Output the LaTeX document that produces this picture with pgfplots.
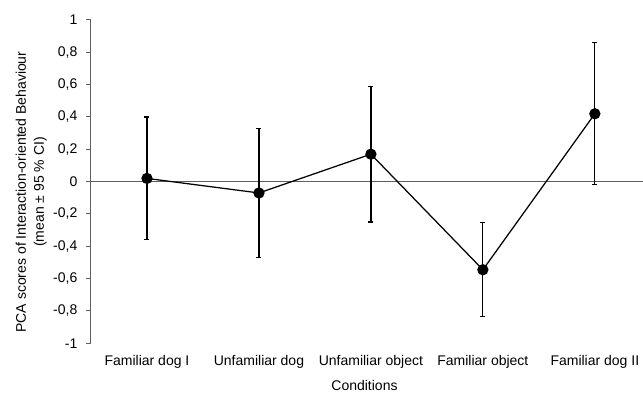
\documentclass[border=0pt]{standalone}
\usepackage{pgfplots}
\pgfplotsset{compat=1.18}
\usepackage{fontspec}
\setmainfont{Liberation Sans}
\definecolor{axisgray}{RGB}{95,95,95}

% Interaction-oriented behaviour: mean PCA score and 95 % CI half-width per condition
\pgfplotstableread{
x   y      e
0   0.02   0.38
1  -0.07   0.397
2   0.17   0.42
3  -0.545  0.29
4   0.42   0.44
}\scores

\begin{document}
\begin{tikzpicture}
\begin{axis}[
  scale only axis,
  width=552pt, height=323.3pt,
  xmin=-0.5, xmax=4.43,
  ymin=-1, ymax=1,
  clip=false,
  axis lines*=left,
  x axis line style={draw=none},
  y axis line style={axisgray, line width=1pt},
  xtick={0,1,2,3,4},
  xticklabels={Familiar dog I, Unfamiliar dog, Unfamiliar object, Familiar object, Familiar dog II},
  x tick style={draw=none},
  ytick={-1,-0.8,-0.6,-0.4,-0.2,0,0.2,0.4,0.6,0.8,1},
  yticklabel={\pgfmathprintnumber[use comma,fixed,precision=1,assume math mode=true]{\tick}},
  y tick style={axisgray, line width=1pt},
  tick align=outside,
  major tick length=4.5pt,
  tick label style={font=\fontsize{14}{16}\selectfont},
  yticklabel style={anchor=east, inner sep=0pt, xshift=-9pt},
  xticklabel style={anchor=base, inner sep=0pt, yshift=-17.5pt},
]
\coordinate (sw) at (rel axis cs:0,0);
\coordinate (ne) at (rel axis cs:1,1);

% zero reference line
\draw[axisgray, line width=1.2pt] (axis cs:-0.5,0) -- (axis cs:4.43,0);

\addplot[black, line width=1.25pt,
  mark=*, mark size=5pt, mark options={solid, fill=black},
  error bars/.cd, y dir=both, y explicit,
  error bar style={line width=1.2pt, black},
  error mark options={rotate=90, mark size=2.5pt, line width=1.2pt, black}]
  table[x=x, y=y, y error=e] {\scores};

% axis titles
\node[anchor=base, inner sep=0pt, font=\fontsize{14}{16}\selectfont]
  at ([shift={(273.5pt,-47pt)}]rel axis cs:0,0) {Conditions};
\node[rotate=90, anchor=base, inner sep=0pt, font=\fontsize{14}{16}\selectfont]
  at ([shift={(-65pt,151.3pt)}]rel axis cs:0,0) {PCA scores of Interaction-oriented Behaviour};
\node[rotate=90, anchor=base, inner sep=0pt, font=\fontsize{14}{16}\selectfont]
  at ([shift={(-47pt,151.3pt)}]rel axis cs:0,0) {(mean ± 95 \% CI)};
\end{axis}
\pgfresetboundingbox
\useasboundingbox ([shift={(-91pt,-49.7pt)}]sw) rectangle ([shift={(0pt,20pt)}]ne);
\end{tikzpicture}
\end{document}
